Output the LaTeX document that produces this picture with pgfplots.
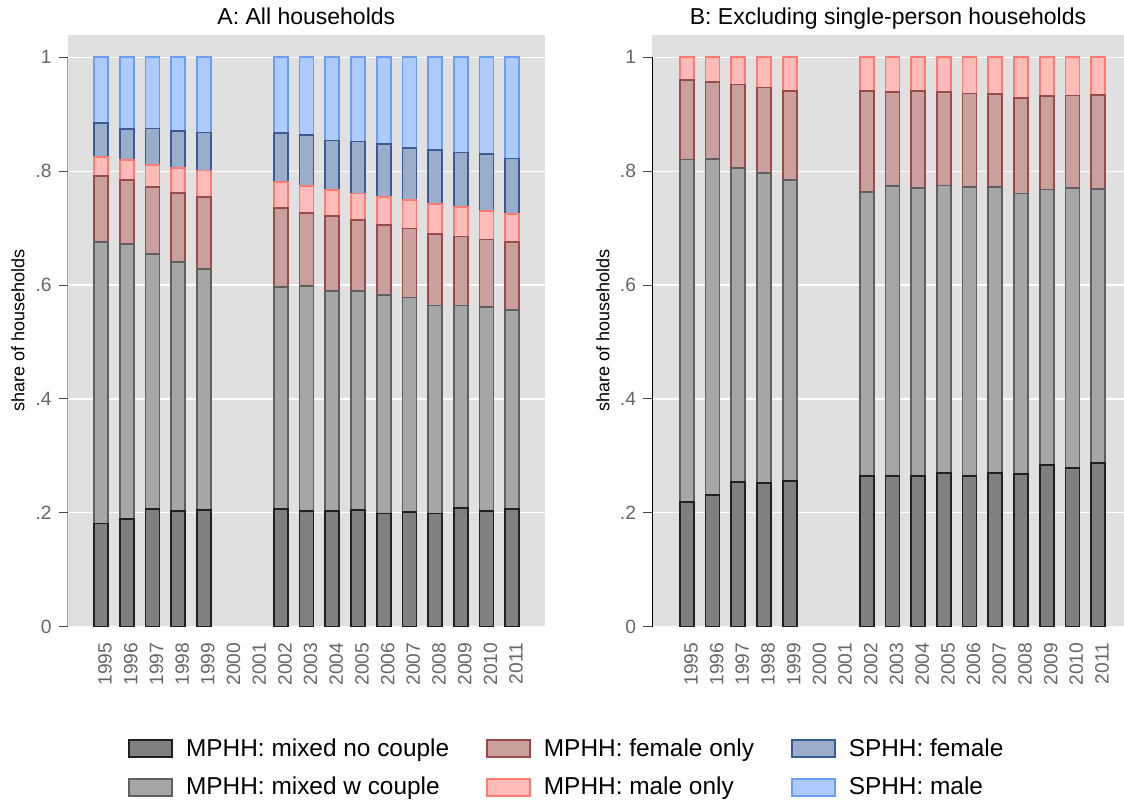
\documentclass[border=0pt]{standalone}
\usepackage{fontspec}
\setmainfont{Liberation Sans}
\usepackage{pgfplots}
\usepackage{pgfplotstable}
\pgfplotsset{compat=1.18}
\definecolor{bggray}{HTML}{E0E0E0}
\definecolor{tickgray}{HTML}{666666}
\definecolor{ncfill}{HTML}{808080}\definecolor{ncdraw}{HTML}{202020}
\definecolor{wcfill}{HTML}{A6A6A6}\definecolor{wcdraw}{HTML}{5F5F5F}
\definecolor{fofill}{HTML}{C9A09D}\definecolor{fodraw}{HTML}{9A4A48}
\definecolor{mofill}{HTML}{FFBBB8}\definecolor{modraw}{HTML}{FF7B72}
\definecolor{sffill}{HTML}{9AADCB}\definecolor{sfdraw}{HTML}{3A5A98}
\definecolor{smfill}{HTML}{AECBFF}\definecolor{smdraw}{HTML}{6A9EF5}

\pgfplotstableread{
year nc wc fo mo sf sm
1995 .1815 .4945 .1160 .0330 .0600 .1150
1996 .1890 .4830 .1120 .0350 .0550 .1260
1997 .2067 .4473 .1180 .0390 .0640 .1250
1998 .2026 .4384 .1210 .0430 .0660 .1290
1999 .2055 .4222 .1263 .0470 .0666 .1324
2002 .2073 .3887 .1388 .0462 .0855 .1335
2003 .2038 .3942 .1280 .0480 .0900 .1360
2004 .2026 .3874 .1307 .0463 .0866 .1464
2005 .2050 .3850 .1240 .0465 .0913 .1482
2006 .1990 .3830 .1240 .0487 .0933 .1520
2007 .2020 .3760 .1210 .0499 .0918 .1593
2008 .1990 .3648 .1252 .0528 .0952 .1630
2009 .2090 .3548 .1212 .0515 .0960 .1675
2010 .2038 .3572 .1190 .0500 .0996 .1704
2011 .2073 .3487 .1200 .0488 .0972 .1780
}\dataA

\pgfplotstableread{
year nc wc fo mo
1995 .2195 .6007 .1398 .0400
1996 .2313 .5901 .1352 .0434
1997 .2547 .5513 .1460 .0480
1998 .2524 .5439 .1507 .0530
1999 .2564 .5276 .1573 .0587
2002 .2652 .4982 .1779 .0587
2003 .2652 .5088 .1645 .0615
2004 .2652 .5048 .1703 .0597
2005 .2700 .5050 .1640 .0610
2006 .2641 .5076 .1644 .0639
2007 .2694 .5023 .1638 .0645
2008 .2687 .4918 .1685 .0710
2009 .2840 .4835 .1645 .0680
2010 .2793 .4907 .1630 .0670
2011 .2875 .4812 .1653 .0660
}\dataB

\pgfplotsset{
  panel/.style={
    scale only axis,
    height=295.85pt,
    ymin=0, ymax=1.039,
    enlargelimits=false,
    ybar stacked, bar width=7pt,
    axis background/.style={fill=bggray},
    axis line style={draw=none},
    ymajorgrids, major grid style={white, line width=0.6pt},
    ytick={0,0.2,0.4,0.6,0.8,1},
    yticklabels={0,.2,.4,.6,.8,1},
    ytick pos=left,
    tick align=outside,
    major tick length=4.5pt,
    ytick style={draw=black!70, line width=0.5pt},
    xtick={1995,1996,1997,1998,1999,2000,2001,2002,2003,2004,2005,2006,2007,2008,2009,2010,2011},
    xticklabels={1995,1996,1997,1998,1999,2000,2001,2002,2003,2004,2005,2006,2007,2008,2009,2010,2011},
    xtick style={draw=none},
    xticklabel style={rotate=90, anchor=east, text=tickgray, font=\fontsize{9.6}{11}\selectfont, yshift=-2pt},
    yticklabel style={text=tickgray, font=\fontsize{9.6}{11}\selectfont},
    ylabel={share of households},
    ylabel style={font=\fontsize{9}{10}\selectfont, at={(axis description cs:-0.104,0.5)}, anchor=center},
    title style={font=\fontsize{11.5}{13}\selectfont, at={(axis description cs:0.5,1)}, anchor=base, yshift=-0.5pt},
  },
  nc/.style={fill=ncfill, draw=ncdraw, line width=0.85pt},
  wc/.style={fill=wcfill, draw=wcdraw, line width=0.85pt},
  fo/.style={fill=fofill, draw=fodraw, line width=0.85pt},
  mo/.style={fill=mofill, draw=modraw, line width=0.85pt},
  sf/.style={fill=sffill, draw=sfdraw, line width=0.85pt},
  sm/.style={fill=smfill, draw=smdraw, line width=0.85pt},
}

\begin{document}
\begin{tikzpicture}
\useasboundingbox (0pt,-400pt) rectangle (562pt,0pt);
\begin{axis}[panel,
  at={(33.85pt,-313.35pt)}, anchor=south west,
  width=238.65pt, xmin=1993.70, xmax=2012.28,
  title={A: All households},
  legend columns=2, transpose legend,
  legend cell align=left,
  legend style={draw=none, fill=none, at={(axis description cs:1.048,-0.2388)}, anchor=center,
    font=\fontsize{12.2}{14}\selectfont,
    /tikz/every even column/.append style={column sep=16.5pt},
    row sep=5pt},
  legend image code/.code={\draw[#1] (0pt,-4.25pt) rectangle (21.5pt,4.25pt); \path (26pt,0pt);},
]
\addplot[nc] table[x=year,y=nc]{\dataA};
\addplot[wc] table[x=year,y=wc]{\dataA};
\addplot[fo] table[x=year,y=fo]{\dataA};
\addplot[mo] table[x=year,y=mo]{\dataA};
\addplot[sf] table[x=year,y=sf]{\dataA};
\addplot[sm] table[x=year,y=sm]{\dataA};
\legend{MPHH: mixed no couple, MPHH: mixed w couple, MPHH: female only, MPHH: male only, SPHH: female, SPHH: male}
\draw[black, line width=0.6pt] (axis cs:1993.70,0) -- (axis cs:1993.70,1);
\end{axis}
\begin{axis}[panel,
  at={(326pt,-313.35pt)}, anchor=south west,
  width=236pt, xmin=1993.64, xmax=2012.01,
  title={B: Excluding single-person households},
]
\addplot[nc] table[x=year,y=nc]{\dataB};
\addplot[wc] table[x=year,y=wc]{\dataB};
\addplot[fo] table[x=year,y=fo]{\dataB};
\addplot[mo] table[x=year,y=mo]{\dataB};
\draw[black, line width=0.6pt] (axis cs:1993.64,0) -- (axis cs:1993.64,1);
\end{axis}
\end{tikzpicture}
\end{document}
